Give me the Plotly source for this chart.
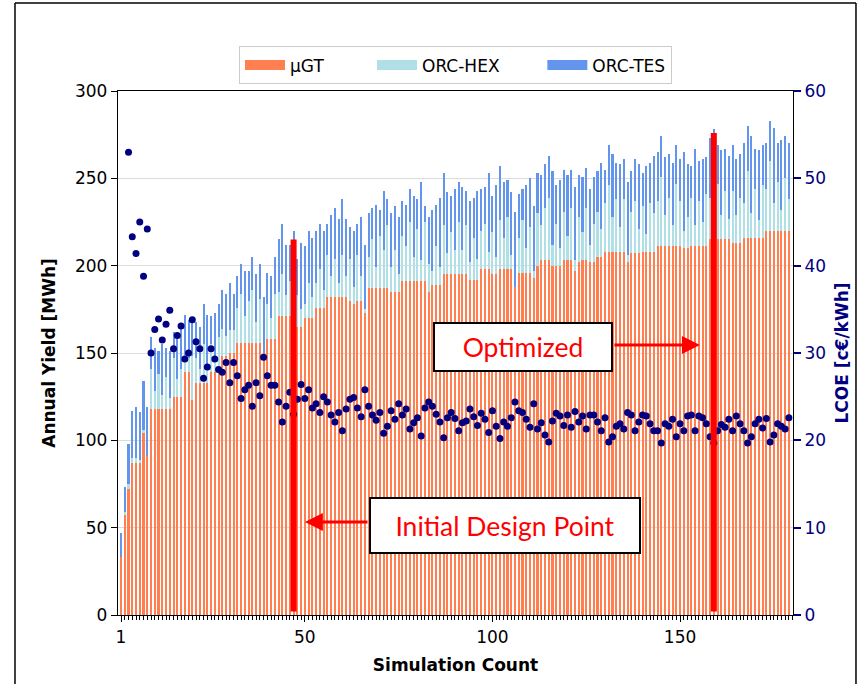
import plotly.graph_objects as go

# Simulation index of every optimisation run
counts = list(range(1, 180))

# Annual yield of the micro gas turbine [MWh]
ugt = [
    33, 57, 72, 87, 87, 87, 104, 91, 118, 118,
    118, 118, 118, 118, 125, 125, 125, 139, 139, 123,
    133, 133, 133, 133, 139, 139, 139, 148, 148, 150,
    150, 156, 156, 156, 156, 156, 156, 156, 150, 158,
    158, 158, 171, 171, 171, 171, 171, 165, 165, 170,
    170, 170, 176, 176, 176, 182, 182, 182, 182, 182,
    182, 180, 178, 180, 180, 173, 187, 187, 187, 187,
    187, 187, 185, 185, 185, 191, 191, 191, 191, 191,
    191, 191, 185, 189, 189, 189, 195, 195, 195, 195,
    195, 195, 195, 192, 192, 192, 198, 198, 198, 195,
    195, 198, 198, 198, 198, 188, 196, 196, 196, 196,
    193, 200, 203, 203, 203, 200, 200, 200, 203, 203,
    203, 197, 202, 203, 203, 202, 202, 205, 205, 208,
    208, 208, 208, 208, 208, 202, 207, 207, 207, 208,
    208, 208, 208, 211, 211, 211, 211, 211, 211, 211,
    210, 210, 211, 211, 211, 211, 211, 215, 215, 215,
    215, 215, 215, 213, 213, 213, 216, 216, 216, 216,
    216, 216, 220, 220, 220, 220, 220, 220, 220,
]

# Additional yield of the ORC driven by the heat exchanger [MWh]
orc_hex = [
    0, 2, 3, 3, 3, 2, 2, 0, 23, 10,
    20, 8, 18, 6, 22, 10, 16, 10, 8, 25,
    14, 8, 22, 10, 16, 6, 20, 16, 12, 13,
    13, 20, 28, 15, 24, 30, 12, 25, 0, 20,
    12, 26, 14, 24, 12, 20, 22, 18, 10, 8,
    20, 12, 14, 22, 10, 24, 12, 22, 8, 24,
    12, 24, 10, 26, 14, 2, 18, 28, 12, 30,
    22, 36, 14, 24, 10, 26, 20, 34, 14, 30,
    12, 34, 16, 8, 22, 10, 28, 12, 24, 14,
    30, 14, 28, 10, 24, 12, 22, 26, 10, 24,
    10, 28, 18, 30, 8, 0, 20, 30, 14, 26,
    4, 30, 20, 30, 36, 12, 24, 10, 28, 14,
    30, 6, 26, 16, 30, 10, 22, 26, 16, 28,
    38, 20, 30, 14, 30, 4, 24, 30, 14, 26,
    10, 28, 22, 26, 40, 18, 28, 12, 36, 26,
    10, 18, 28, 12, 26, 14, 30, 24, 22, 32,
    14, 28, 12, 30, 16, 26, 20, 38, 14, 28,
    10, 30, 24, 40, 16, 28, 12, 30, 18,
]

# Total annual yield (uGT + ORC-HEX + ORC-TES) [MWh]
total_yield = [
    47, 73, 98, 117, 119, 116, 134, 119, 159, 153,
    151, 155, 153, 151, 162, 158, 166, 172, 169, 170,
    168, 165, 178, 172, 171, 173, 178, 186, 184, 190,
    184, 194, 201, 197, 197, 205, 195, 201, 182, 196,
    194, 205, 215, 224, 212, 212, 220, 204, 213, 211,
    220, 216, 220, 224, 220, 224, 229, 233, 227, 238,
    227, 222, 220, 224, 228, 212, 230, 233, 235, 232,
    243, 238, 230, 234, 228, 237, 235, 244, 240, 238,
    248, 234, 228, 232, 235, 239, 253, 242, 240, 244,
    248, 245, 243, 237, 239, 243, 244, 245, 253, 240,
    246, 257, 248, 249, 242, 231, 241, 244, 246, 250,
    234, 253, 252, 258, 263, 254, 246, 249, 255, 252,
    255, 245, 252, 251, 256, 244, 251, 254, 259, 255,
    269, 264, 259, 258, 261, 248, 254, 261, 258, 253,
    257, 259, 263, 265, 274, 262, 264, 259, 269, 261,
    265, 258, 257, 267, 260, 261, 262, 273, 278, 269,
    266, 267, 263, 269, 261, 264, 270, 280, 274, 267,
    266, 269, 270, 283, 279, 270, 272, 274, 270,
]

# Levelised cost of electricity [c€/kWh]; first two runs lie above the axis
lcoe = [
    None, None, 53.0, 43.3, 41.4, 45.0, 38.8, 44.2, 30.0, 32.7,
    33.9, 31.5, 33.3, 34.9, 30.5, 32.0, 33.1, 29.3, 30.0, 33.8,
    31.3, 30.5, 27.1, 28.4, 30.5, 29.3, 28.1, 27.8, 28.9, 26.6,
    28.9, 27.4, 24.8, 25.8, 26.3, 23.9, 26.6, 25.1, 29.5, 27.4,
    26.3, 26.3, 24.4, 22.1, 23.9, 25.5, 23.0, 24.7, 26.4, 24.8,
    25.8, 23.7, 24.2, 23.2, 25.0, 24.4, 22.9, 22.1, 23.2, 21.1,
    23.6, 24.7, 24.9, 23.7, 22.7, 25.8, 23.9, 22.9, 22.3, 23.2,
    20.8, 21.6, 23.4, 22.4, 24.2, 22.9, 23.6, 21.3, 22.0, 22.6,
    20.5, 23.7, 24.4, 23.9, 23.0, 22.1, 20.3, 22.6, 23.2, 22.5,
    21.1, 22.0, 22.2, 23.6, 22.7, 21.7, 23.1, 22.4, 20.9, 23.4,
    21.6, 20.2, 22.1, 21.6, 22.6, 24.4, 23.4, 23.2, 22.4, 21.5,
    24.2, 21.3, 22.0, 20.6, 19.8, 22.2, 23.1, 22.8, 21.7, 22.9,
    21.5, 23.3, 22.1, 22.8, 21.3, 22.9, 22.9, 22.1, 21.1, 22.6,
    19.8, 20.4, 21.6, 21.9, 21.3, 23.2, 22.9, 21.1, 22.1, 22.9,
    22.8, 21.9, 21.1, 21.1, 19.7, 21.9, 21.6, 22.4, 20.4, 21.9,
    21.1, 22.8, 22.9, 21.1, 22.8, 22.6, 21.9, 20.4, 19.7, 21.1,
    21.8, 21.5, 22.4, 21.1, 22.8, 21.9, 21.1, 19.7, 20.4, 21.9,
    22.4, 21.4, 22.5, 19.8, 20.6, 21.9, 21.6, 21.3, 22.6,
]

# ORC yield from the thermal energy storage = remainder of the total
orc_tes = [t - u - h for t, u, h in zip(total_yield, ugt, orc_hex)]

# Highlighted runs: initial design point and optimum
marked_counts = [47, 159]
marked_yield = [215, 276]

series_names = ["\u03bcGT", "ORC-HEX", "ORC-TES"]
x_ticks = [1, 50, 100, 150]
y_ticks = [0, 50, 100, 150, 200, 250, 300]
y2_ticks = [0, 10, 20, 30, 40, 50, 60]

C_UGT = "#FF7F50"
C_HEX = "#B0E0E6"
C_TES = "#6495ED"
NAVY = "#000080"
FONT = "DejaVu Sans"
NBSP = "\u00a0"

fig = go.Figure()

legend_pad = [8, 7, 0]
for name, vals, col, pad in zip(series_names, [ugt, orc_hex, orc_tes], [C_UGT, C_HEX, C_TES], legend_pad):
    fig.add_trace(go.Bar(x=counts, y=vals, width=0.55, marker=dict(color=col, line=dict(width=0)),
                         name=name, showlegend=False))
    # wide legend patch
    fig.add_trace(go.Scatter(x=[None], y=[None], mode="lines", name=name + NBSP * pad,
                             line=dict(color=col, width=14)))

fig.add_trace(go.Scatter(x=counts, y=lcoe, mode="markers", yaxis="y2", showlegend=False,
                         marker=dict(color=NAVY, size=7, line=dict(width=0))))

shapes = []
for c, h in zip(marked_counts, marked_yield):
    shapes.append(dict(type="rect", xref="x", yref="y", x0=c - 0.8, x1=c + 0.8, y0=2, y1=h,
                       fillcolor="#FF0000", line=dict(width=0), layer="above"))

# outer frame of the picture
for x0, y0, x1, y1 in [(-0.1526, -0.2, -0.1526, 1.168), (1.0933, -0.2, 1.0933, 1.168),
                       (-0.1526, 1.168, 1.0933, 1.168)]:
    shapes.append(dict(type="line", xref="paper", yref="paper", x0=x0, y0=y0, x1=x1, y1=y1,
                       line=dict(color="black", width=1.5)))

annotations = [
    dict(x=108.1, y=153.4, xref="x", yref="y", text="Optimized", showarrow=False,
         font=dict(family="Lato", size=26.5, color="#FF0000"), bgcolor="white",
         bordercolor="black", borderwidth=2, borderpad=0, width=176, height=46),
    dict(x=103.3, y=51.2, xref="x", yref="y", text="Initial Design Point", showarrow=False,
         font=dict(family="Lato", size=26.5, color="#FF0000"), bgcolor="white",
         bordercolor="black", borderwidth=2, borderpad=0, width=268, height=53),
    dict(x=155.3, y=154.6, xref="x", yref="y", ax=132.1, ay=154.6, axref="x", ayref="y",
         text="", showarrow=True, arrowhead=2, arrowsize=1.2, arrowwidth=3, arrowcolor="#FF0000"),
    dict(x=50.0, y=53.2, xref="x", yref="y", ax=67.1, ay=53.2, axref="x", ayref="y",
         text="", showarrow=True, arrowhead=2, arrowsize=1.2, arrowwidth=3, arrowcolor="#FF0000"),
]

fig.update_layout(
    width=863, height=684,
    margin=dict(l=118, r=70, t=91, b=69),
    paper_bgcolor="white", plot_bgcolor="white",
    barmode="stack", bargap=0,
    font=dict(family=FONT, size=17, color="black"),
    shapes=shapes, annotations=annotations,
    legend=dict(orientation="h", x=0.5, xanchor="center", y=1.085, yanchor="top",
                bordercolor="#cccccc", borderwidth=1, bgcolor="white",
                font=dict(family=FONT, size=17), itemwidth=40, traceorder="normal"),
    xaxis=dict(range=[0.2, 180.1], tickvals=x_ticks, ticktext=[str(v) for v in x_ticks],
               ticks="outside", ticklen=6, tickcolor="black", showgrid=False,
               showline=True, linecolor="black", linewidth=1.3, mirror=True, zeroline=False,
               minor=dict(tick0=1, dtick=1, ticks="outside", ticklen=4, tickcolor="black", showgrid=False),
               title=dict(text="<b>Simulation Count</b>", font=dict(size=17), standoff=13)),
    yaxis=dict(range=[0, 300], tickvals=y_ticks, ticks="outside", ticklen=6, tickcolor="black",
               showgrid=True, gridcolor="#dcdcdc", gridwidth=1, zeroline=False,
               showline=True, linecolor="black", linewidth=1.3,
               title=dict(text="<b>Annual Yield [MWh]</b>", font=dict(size=17), standoff=15)),
    yaxis2=dict(range=[0, 60], tickvals=y2_ticks, overlaying="y", side="right",
                ticks="outside", ticklen=7, tickwidth=2, tickcolor=NAVY,
                tickfont=dict(color=NAVY), showgrid=False, zeroline=False,
                showline=True, linecolor="black", linewidth=1.3,
                title=dict(text="<b>LCOE [c€/kWh]</b>", font=dict(size=17, color=NAVY), standoff=10)),
)

fig.write_html("out.html")
